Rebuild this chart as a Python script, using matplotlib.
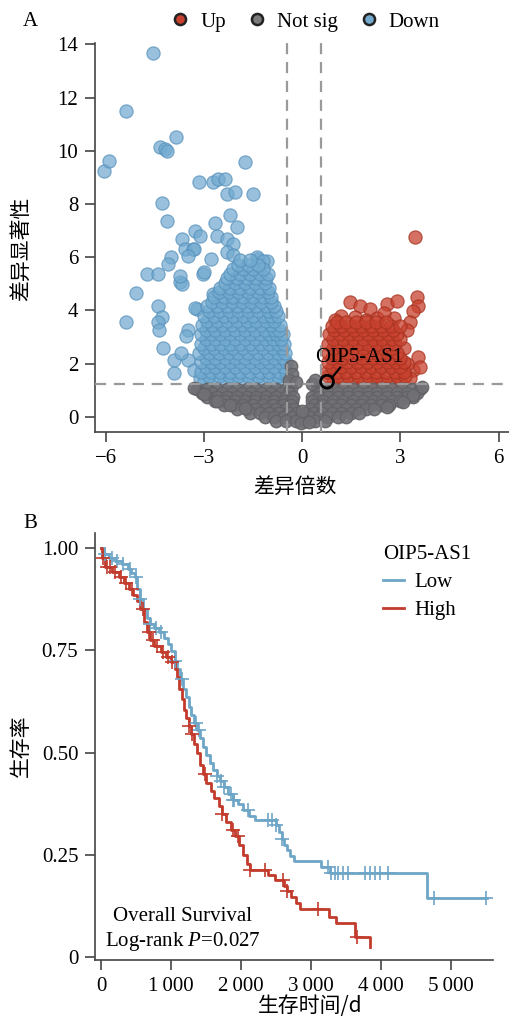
import numpy as np
import matplotlib
matplotlib.use('Agg')
import matplotlib.pyplot as plt
from matplotlib.lines import Line2D

plt.rcParams['font.family'] = ['Liberation Serif', 'Noto Sans CJK SC', 'DejaVu Sans']
plt.rcParams['mathtext.fontset'] = 'custom'
plt.rcParams['mathtext.rm'] = 'Liberation Serif'
plt.rcParams['mathtext.it'] = 'Liberation Serif:italic'

# ---------------- Panel A data (volcano) ----------------
blue_out_x = [-4.57, -5.37, -6.04, -5.91, -4.33, -4.18, -4.12, -3.87, -1.74, -3.14, -2.71, -2.56,
              -2.35, -2.29, -2.04, -1.49, -4.27, -4.12, -2.20, -1.98, -2.65, -3.26, -3.11, -3.66,
              -2.60, -3.57, -3.35, -4.00, -2.80, -1.34, -1.07, -4.73, -4.42, -3.02, -3.72, -5.09,
              -5.37, -4.39, -4.27, -4.42, -4.36, -4.24, -3.93, -3.93, -3.66, -3.20, -3.48, -3.50,
              -3.11, -3.32, -2.71, -3.26, -3.55, -3.70, -2.29, -2.10, -2.29, -2.10, -1.37, -1.19,
              -3.30, -3.50, -4.09, -3.72, -3.00]
blue_out_y = [13.66, 11.50, 9.25, 9.60, 10.15, 10.08, 9.98, 10.50, 9.58, 8.83, 8.83, 8.94,
              8.94, 8.38, 8.45, 8.38, 8.04, 7.36, 7.58, 7.13, 7.28, 6.98, 6.79, 6.68,
              6.79, 6.30, 6.30, 6.00, 5.92, 5.92, 5.85, 5.36, 5.36, 5.36, 5.06, 4.64,
              3.58, 4.15, 3.77, 3.58, 3.28, 2.60, 2.15, 1.66, 4.98, 4.04, 3.28, 2.15,
              1.47, 1.77, 4.60, 4.10, 3.05, 2.40, 6.68, 6.50, 6.20, 6.10, 6.00, 5.85,
              6.30, 6.04, 5.74, 5.28, 5.43]

blue_blob_rows = {
    1.35: [-3.0, -2.7, -2.4, -2.1, -1.8, -1.5, -1.2, -0.9, -0.6],
    1.52: [-2.85, -2.55, -2.25, -1.95, -1.65, -1.35, -1.05, -0.75, -0.5],
    1.70: [-3.1, -2.8, -2.5, -2.2, -1.9, -1.6, -1.3, -1.0, -0.7, -0.5],
    1.88: [-2.95, -2.65, -2.35, -2.05, -1.75, -1.45, -1.15, -0.85, -0.55],
    2.05: [-3.1, -2.8, -2.5, -2.2, -1.9, -1.6, -1.3, -1.0, -0.7, -0.5],
    2.22: [-2.95, -2.65, -2.35, -2.05, -1.75, -1.45, -1.15, -0.85, -0.6],
    2.40: [-3.15, -2.85, -2.55, -2.25, -1.95, -1.65, -1.35, -1.05, -0.75, -0.52],
    2.58: [-3.0, -2.7, -2.4, -2.1, -1.8, -1.5, -1.2, -0.9, -0.62],
    2.75: [-3.1, -2.8, -2.5, -2.2, -1.9, -1.6, -1.3, -1.0, -0.75, -0.55],
    2.92: [-2.95, -2.65, -2.35, -2.05, -1.75, -1.45, -1.15, -0.88, -0.65],
    3.10: [-3.1, -2.8, -2.5, -2.2, -1.9, -1.6, -1.3, -1.0, -0.8, -0.6],
    3.28: [-2.95, -2.65, -2.35, -2.05, -1.75, -1.45, -1.15, -0.85, -0.7],
    3.45: [-3.05, -2.75, -2.45, -2.15, -1.85, -1.55, -1.25, -0.95, -0.68],
    3.62: [-2.9, -2.6, -2.3, -2.0, -1.7, -1.4, -1.1, -0.85],
    3.80: [-3.0, -2.7, -2.4, -2.1, -1.8, -1.5, -1.2, -0.95, -0.75],
    3.98: [-2.85, -2.55, -2.25, -1.95, -1.65, -1.35, -1.05, -0.8],
    4.15: [-2.9, -2.6, -2.3, -2.0, -1.7, -1.4, -1.1, -0.85],
    4.32: [-2.75, -2.45, -2.15, -1.85, -1.55, -1.25, -0.95],
    4.50: [-2.7, -2.4, -2.1, -1.8, -1.5, -1.2, -0.95],
    4.68: [-2.55, -2.25, -1.95, -1.65, -1.35, -1.05],
    4.85: [-2.5, -2.2, -1.9, -1.6, -1.3, -1.0],
    5.02: [-2.35, -2.05, -1.75, -1.45, -1.15],
    5.20: [-2.3, -2.0, -1.7, -1.4, -1.1],
    5.38: [-2.2, -1.9, -1.6, -1.3, -1.05],
    5.55: [-2.1, -1.8, -1.5, -1.2],
    5.72: [-1.95, -1.65, -1.35],
    5.90: [-1.9, -1.6],
}

red_out_x = [1.46, 1.77, 2.07, 2.59, 2.90, 3.50, 3.54, 3.38, 3.29, 3.20, 3.54, 3.38, 3.60,
             1.20, 1.60, 2.30, 2.80, 1.00, 3.45, 2.50, 1.95, 3.10, 3.20, 3.30]
red_out_y = [4.30, 4.15, 4.04, 4.23, 4.34, 4.49, 4.15, 3.96, 3.58, 3.28, 2.23, 1.77, 1.89,
             3.80, 3.75, 3.70, 3.70, 3.65, 6.75, 3.90, 3.65, 2.60, 2.00, 1.45]

red_blob_rows = {
    1.35: [0.95, 1.25, 1.55, 1.85, 2.15, 2.45, 2.75, 3.0],
    1.52: [0.8, 1.1, 1.4, 1.7, 2.0, 2.3, 2.6, 2.9, 3.15],
    1.70: [0.75, 1.05, 1.35, 1.65, 1.95, 2.25, 2.55, 2.85, 3.1],
    1.88: [0.9, 1.2, 1.5, 1.8, 2.1, 2.4, 2.7, 3.0],
    2.05: [0.78, 1.08, 1.38, 1.68, 1.98, 2.28, 2.58, 2.88, 3.1],
    2.22: [0.92, 1.22, 1.52, 1.82, 2.12, 2.42, 2.72, 3.0],
    2.40: [0.8, 1.1, 1.4, 1.7, 2.0, 2.3, 2.6, 2.9],
    2.58: [0.95, 1.25, 1.55, 1.85, 2.15, 2.45, 2.75],
    2.75: [0.8, 1.1, 1.4, 1.7, 2.0, 2.3, 2.6, 2.85],
    2.92: [0.95, 1.25, 1.55, 1.85, 2.15, 2.45, 2.75, 3.0],
    3.10: [0.82, 1.12, 1.42, 1.72, 2.02, 2.32, 2.62, 2.9],
    3.25: [0.97, 1.27, 1.57, 1.87, 2.17, 2.47, 2.77],
    3.40: [0.9, 1.2, 1.5, 1.8, 2.1, 2.4, 2.7, 3.0],
    3.58: [1.05, 1.35, 1.65, 1.95, 2.25, 2.55],
}

grey_rows = {
    1.05: [-3.2, -2.9, -2.6, -2.3, -2.0, -1.7, -1.4, -1.1, -0.8, -0.5, -0.33,
           0.45, 0.65, 0.95, 1.25, 1.55, 1.85, 2.15, 2.45, 2.75, 3.05, 3.35, 3.6],
    0.90: [-3.05, -2.75, -2.45, -2.15, -1.85, -1.55, -1.25, -0.95, -0.65, -0.4,
           0.45, 0.8, 1.1, 1.4, 1.7, 2.0, 2.3, 2.6, 2.9, 3.2, 3.5],
    0.75: [-2.9, -2.6, -2.3, -2.0, -1.7, -1.4, -1.1, -0.8, -0.5, -0.27,
           0.3, 0.5, 0.8, 1.1, 1.4, 1.7, 2.0, 2.3, 2.6, 2.9, 3.2, 3.4],
    0.60: [-2.65, -2.35, -2.05, -1.75, -1.45, -1.15, -0.85, -0.55, -0.3,
           0.3, 0.65, 0.95, 1.25, 1.55, 1.85, 2.15, 2.45, 2.75, 3.0],
    0.45: [-2.4, -2.1, -1.8, -1.5, -1.2, -0.9, -0.6, -0.35, 0.35, 0.6, 0.9,
           1.2, 1.5, 1.8, 2.1, 2.4, 2.65],
    0.30: [-2.0, -1.7, -1.4, -1.1, -0.8, -0.5, -0.25, 0.25, 0.5, 0.75, 1.05,
           1.35, 1.65, 1.95, 2.2],
    0.15: [-1.6, -1.3, -1.0, -0.7, -0.4, -0.15, 0.1, 0.35, 0.6, 0.9, 1.2, 1.5, 1.75],
    0.00: [-1.15, -0.85, -0.55, -0.3, -0.05, 0.25, 0.5, 0.8, 1.1, 1.35],
    -0.15: [-0.8, -0.5, -0.2, 0.1, 0.4, 0.7],
}
grey_out_x = [-0.35, -0.30, -0.40, -0.20, 0.30, 0.40, -3.30, 3.66, 3.38, 3.08, 2.59, -2.20,
              -1.74, -3.00, -0.05, 0.20, -2.60, 0.0]
grey_out_y = [1.90, 1.60, 1.40, 1.30, 1.25, 1.40, 1.10, 1.13, 0.83, 0.57, 0.38, 0.45,
              0.34, 0.85, -0.25, -0.20, 0.60, 0.22]

gene_label = 'OIP5-AS1'
gene_x, gene_y = 0.76, 1.32
fc_cut_left, fc_cut_right, p_cut = -0.45, 0.56, 1.22

# ---------------- Panel B data (Kaplan-Meier) ----------------
low_times = [0, 40, 110, 200, 300, 380, 430, 480, 520, 560, 600, 650, 700, 760, 830, 900, 950,
             1000, 1050, 1090, 1130, 1170, 1210, 1250, 1290, 1330, 1370, 1410, 1450, 1500, 1550,
             1600, 1650, 1700, 1760, 1820, 1880, 1950, 2030, 2120, 2200, 2500, 2540, 2580, 2620,
             2660, 2700, 2750, 3140, 3270, 4660]
low_surv = [1.0, 0.985, 0.975, 0.968, 0.962, 0.95, 0.94, 0.93, 0.90, 0.875, 0.85, 0.83, 0.815,
            0.805, 0.795, 0.78, 0.765, 0.748, 0.725, 0.705, 0.68, 0.655, 0.635, 0.612, 0.592,
            0.572, 0.555, 0.535, 0.515, 0.495, 0.475, 0.458, 0.443, 0.43, 0.415, 0.398, 0.385,
            0.375, 0.36, 0.345, 0.335, 0.322, 0.305, 0.29, 0.275, 0.262, 0.248, 0.235, 0.22,
            0.205, 0.144]
low_end = 5510
low_censor = [60, 150, 230, 320, 420, 500, 560, 700, 780, 850, 1050, 1150, 1350, 1400, 1650,
              1720, 1760, 1850, 1880, 1900, 2100, 2380, 2440, 2500, 2590, 3240, 3290, 3340,
              3390, 3450, 3530, 3770, 3840, 3910, 3990, 4100, 4760, 5500]

high_times = [0, 20, 60, 150, 250, 330, 400, 460, 510, 560, 610, 650, 700, 760, 850, 930, 1000,
              1050, 1090, 1120, 1150, 1180, 1210, 1250, 1290, 1330, 1370, 1415, 1460, 1500, 1570,
              1620, 1680, 1730, 1780, 1850, 1910, 1970, 2030, 2090, 2130, 2380, 2490, 2620, 2660,
              2710, 2780, 2840, 3250, 3360, 3630, 3840]
high_surv = [1.0, 0.975, 0.955, 0.942, 0.93, 0.915, 0.9, 0.885, 0.87, 0.85, 0.82, 0.795, 0.775,
             0.76, 0.745, 0.735, 0.722, 0.705, 0.685, 0.655, 0.63, 0.605, 0.585, 0.565, 0.545,
             0.52, 0.50, 0.47, 0.448, 0.425, 0.405, 0.39, 0.37, 0.35, 0.33, 0.31, 0.295, 0.275,
             0.25, 0.228, 0.213, 0.2, 0.188, 0.175, 0.162, 0.147, 0.132, 0.118, 0.098, 0.083,
             0.05, 0.024]
high_censor = [30, 90, 130, 200, 280, 350, 440, 600, 680, 740, 800, 880, 960, 1020, 1260, 1300,
               1490, 1730, 1890, 1960, 2130, 2340, 2600, 2660, 3100, 3650]

km_xticks = [0, 1000, 2000, 3000, 4000, 5000]
km_xticklabels = ['0', '1\u2009000', '2\u2009000', '3\u2009000', '4\u2009000', '5\u2009000']
km_yticks = [0, 0.25, 0.5, 0.75, 1.0]
km_yticklabels = ['0', '0.25', '0.50', '0.75', '1.00']

# ---------------- colours ----------------
C_BLUE = '#72aad0'
C_BLUE_E = '#5590ba'
C_RED = '#c8412f'
C_RED_E = '#a5321f'
C_GREY = '#707075'
C_GREY_E = '#626267'
KM_BLUE = '#6ea6c7'
KM_RED = '#c23b2c'
SPINE = '#444444'
FS = 15

W, H = 510, 1019
fig = plt.figure(figsize=(W / 100, H / 100), dpi=100)

def style_axes(ax):
    for s in ['top', 'right']:
        ax.spines[s].set_visible(False)
    for s in ['left', 'bottom']:
        ax.spines[s].set_color(SPINE)
        ax.spines[s].set_linewidth(1.2)
    ax.tick_params(direction='out', length=7, width=1.2, color=SPINE, labelsize=FS, pad=5)

# ================= Panel A =================
axA = fig.add_axes([95 / W, 1 - 432 / H, 415 / W, 389 / H])
style_axes(axA)

def rows_to_xy(rows):
    xs, ys = [], []
    for yv, xl in rows.items():
        xs += list(xl)
        ys += [yv] * len(xl)
    return xs, ys

bbx, bby = rows_to_xy(blue_blob_rows)
rbx, rby = rows_to_xy(red_blob_rows)
gbx, gby = rows_to_xy(grey_rows)

axA.scatter(blue_out_x + bbx, blue_out_y + bby, s=90, c=C_BLUE, edgecolors=C_BLUE_E,
            linewidths=0.9, alpha=0.72, zorder=2)
axA.scatter(red_out_x + rbx, red_out_y + rby, s=90, c=C_RED, edgecolors=C_RED_E,
            linewidths=0.9, alpha=0.75, zorder=2)
axA.scatter(gbx + grey_out_x, gby + grey_out_y, s=80, c=C_GREY, edgecolors=C_GREY_E,
            linewidths=1.0, alpha=0.9, zorder=3)

dash = dict(color='#9a9a9a', lw=1.6, ls=(0, (5, 3.5)), zorder=4)
axA.axvline(fc_cut_left, **dash)
axA.axvline(fc_cut_right, **dash)
axA.axhline(p_cut, **dash)

axA.scatter([gene_x], [gene_y], s=85, facecolors='none', edgecolors='black', linewidths=2.0, zorder=6)
axA.plot([gene_x + 0.15, gene_x + 0.4], [gene_y + 0.15, gene_y + 0.53], color='black', lw=1.5, zorder=6)
axA.text(0.4, 2.24, gene_label, fontsize=FS, ha='left', va='center', zorder=7)

axA.set_xlim(-6.33, 6.35)
axA.set_ylim(-0.57, 14.05)
axA.set_xticks([-6, -3, 0, 3, 6])
axA.set_yticks([0, 2, 4, 6, 8, 10, 12, 14])
axA.set_xlabel('差异倍数', fontsize=FS, family=['Noto Sans CJK SC'])
axA.set_ylabel('差异显著性', fontsize=FS, family=['Noto Sans CJK SC'])
axA.xaxis.set_label_coords(0.482, -0.114)
axA.yaxis.set_label_coords(-0.152, 0.47)

legA = [Line2D([], [], ls='', marker='o', ms=8, mfc=C_RED, mec='#222222', mew=1.8),
        Line2D([], [], ls='', marker='o', ms=8, mfc='#7a7a7a', mec='#222222', mew=1.8),
        Line2D([], [], ls='', marker='o', ms=8, mfc='#74aacd', mec='#222222', mew=1.8)]
fig.legend(legA, ['Up', 'Not sig', 'Down'], ncol=3, loc='center left',
           bbox_to_anchor=(170 / W, 1 - 22 / H), frameon=False, fontsize=FS,
           handletextpad=0.45, columnspacing=1.0, handlelength=1.0, borderpad=0, borderaxespad=0)

fig.text(30 / W, 1 - 22 / H, 'A', fontsize=FS, ha='center', va='center')

# ================= Panel B =================
axB = fig.add_axes([95 / W, 1 - 960 / H, 398 / W, 427 / H])
style_axes(axB)

def km(ax, times, surv, end, censor, color):
    tt = list(times) + ([end] if end is not None else [])
    ss = list(surv) + ([surv[-1]] if end is not None else [])
    ax.step(tt, ss, where='post', color=color, lw=2.0, zorder=3)
    idx = np.searchsorted(np.array(times), np.array(censor), side='right') - 1
    cy = np.array(surv)[idx]
    ax.plot(censor, cy, ls='', marker='+', ms=10, mew=1.2, color=color, zorder=4)

km(axB, low_times, low_surv, low_end, low_censor, KM_BLUE)
km(axB, high_times, high_surv, None, high_censor, KM_RED)

axB.set_xlim(-86, 5600)
axB.set_ylim(-0.007, 1.037)
axB.set_xticks(km_xticks)
axB.set_xticklabels(km_xticklabels)
axB.set_yticks(km_yticks)
axB.set_yticklabels(km_yticklabels)
axB.set_xlabel('生存时间/d', fontsize=FS, family=['Noto Sans CJK SC', 'Liberation Serif'])
axB.set_ylabel('生存率', fontsize=FS, family=['Noto Sans CJK SC'])
axB.xaxis.set_label_coords(0.54, -0.081)
axB.yaxis.set_label_coords(-0.158, 0.503)

legB = [Line2D([], [], color=KM_BLUE, lw=2.0), Line2D([], [], color=KM_RED, lw=2.0)]
axB.legend(legB, ['Low', 'High'], title='OIP5-AS1', loc='upper left',
           bbox_to_anchor=((383 - 95) / 398, (960 - 545) / 427), frameon=False,
           fontsize=FS, title_fontsize=FS, handlelength=1.0, handletextpad=0.5,
           labelspacing=0.4, borderpad=0, borderaxespad=0, alignment='left')

axB.text(0.22, 0.101, 'Overall Survival', transform=axB.transAxes, fontsize=FS,
         ha='center', va='center')
axB.text(0.22, 0.043, 'Log-rank $\\it{P}$=0.027', transform=axB.transAxes, fontsize=FS,
         ha='center', va='center')

fig.text(30 / W, 1 - 523 / H, 'B', fontsize=FS, ha='center', va='center')

fig.savefig('out.png', dpi=100)
